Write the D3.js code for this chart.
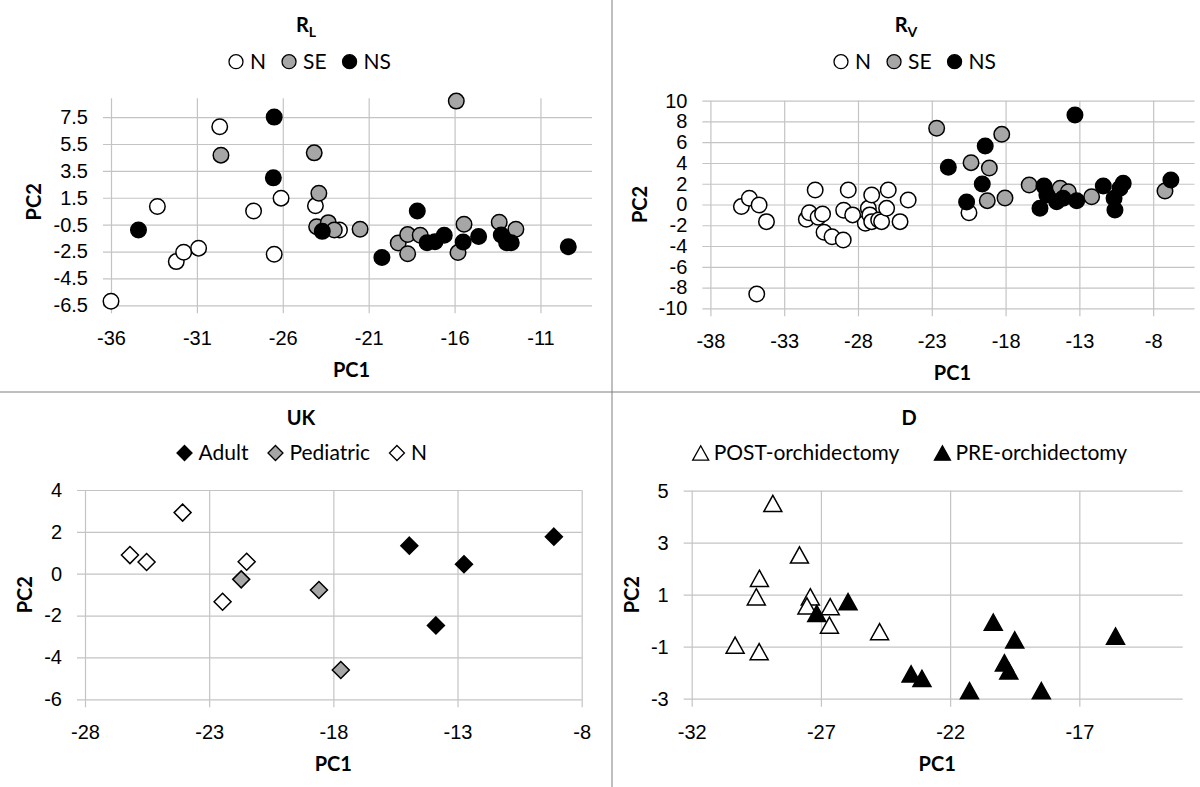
<!DOCTYPE html>
<html>
<head>
<meta charset="utf-8">
<script src="https://cdn.jsdelivr.net/npm/d3@7"></script>
<style>
  body { margin: 0; background: #fff; }
  svg { font-family: Lato, "Open Sans", sans-serif; }
  .grid line { stroke: #c4c4c4; stroke-width: 1.2; }
  .grid path { display: none; }
  .grid text { font-size: 20px; fill: #000; }
</style>
</head>
<body>
<div id="chart"></div>
<script>
// R_L panel
var rlN = [[-36, -6.2], [-33.3, 0.85], [-32.2, -3.25], [-31.77, -2.55], [-30.9, -2.25], [-29.67, 6.78],
  [-27.7, 0.52], [-26.1, 1.47], [-26.5, -2.7], [-24.1, 0.9], [-22.7, -0.9]];
var rlSE = [[-29.6, 4.67], [-24.17, 4.84], [-23.9, 1.84], [-24.03, -0.65], [-23.35, -0.35], [-23.0, -0.9],
  [-21.5, -0.84], [-19.28, -1.86], [-18.73, -2.66], [-18.73, -1.24], [-18.0, -1.29], [-15.9, 8.69],
  [-15.8, -2.58], [-15.45, -0.47], [-13.4, -0.32], [-12.43, -0.84]];
var rlNS = [[-34.4, -0.9], [-26.5, 7.5], [-26.55, 2.98], [-23.7, -1.0], [-20.23, -2.95], [-18.17, 0.52],
  [-17.6, -1.84], [-17.14, -1.77], [-16.6, -1.29], [-15.5, -1.79], [-14.6, -1.39], [-13.28, -1.27],
  [-12.97, -1.84], [-12.7, -1.84], [-9.38, -2.14]];
var rlXTicks = [-36, -31, -26, -21, -16, -11];
var rlYTicks = [-6.5, -4.5, -2.5, -0.5, 1.5, 3.5, 5.5, 7.5];

// R_V panel
var rvN = [[-35.9, -0.2], [-35.36, 0.6], [-34.7, -0.05], [-34.2, -1.65], [-34.86, -8.62], [-31.5, -1.43],
  [-31.3, -0.79], [-30.9, 1.4], [-30.7, -1.23], [-30.4, -0.92], [-30.3, -2.68], [-29.76, -3.1],
  [-29.0, -3.42], [-28.97, -0.56], [-28.66, 1.4], [-28.36, -1.0], [-27.5, -1.8], [-27.3, -0.37],
  [-27.2, -1.0], [-27.07, 0.92], [-27.07, -1.65], [-26.6, -1.5], [-26.4, -1.65], [-26.06, -0.37],
  [-25.95, 1.4], [-25.15, -1.65], [-24.6, 0.43], [-20.48, -0.79]];
var rvSE = [[-22.67, 7.34], [-20.34, 4.03], [-19.1, 3.52], [-19.24, 0.37], [-18.26, 6.76], [-18.04, 0.63],
  [-16.4, 1.88], [-14.3, 1.56], [-13.75, 1.23], [-12.17, 0.75], [-7.2, 1.3]];
var rvNS = [[-21.88, 3.58], [-20.64, 0.24], [-19.38, 5.64], [-19.58, 1.97], [-15.4, 1.78], [-15.67, -0.37],
  [-15.2, 0.92], [-14.54, 0.27], [-14.1, 0.6], [-13.18, 0.37], [-13.3, 8.62], [-11.38, 1.78],
  [-10.03, 2.04], [-10.25, 1.56], [-10.65, 0.6], [-10.59, -0.53], [-6.8, 2.36]];
var rvXTicks = [-38, -33, -28, -23, -18, -13, -8];
var rvYTicks = [-10, -8, -6, -4, -2, 0, 2, 4, 6, 8, 10];

// UK panel
var ukAdult = [[-14.94, 1.34], [-12.74, 0.45], [-13.87, -2.47], [-9.12, 1.77]];
var ukPediatric = [[-21.71, -0.27], [-18.58, -0.78], [-17.7, -4.6]];
var ukN = [[-26.19, 0.89], [-25.52, 0.56], [-24.07, 2.92], [-22.46, -1.34], [-21.49, 0.57]];
var ukXTicks = [-28, -23, -18, -13, -8];
var ukYTicks = [-6, -4, -2, 0, 2, 4];

// D panel
var dPost = [[-28.86, 4.51], [-27.83, 2.53], [-29.38, 1.63], [-29.5, 0.92], [-27.41, 0.92], [-27.54, 0.57],
  [-26.64, 0.54], [-26.67, -0.17], [-30.32, -0.94], [-29.39, -1.19], [-24.73, -0.42]];
var dPre = [[-27.16, 0.28], [-25.95, 0.73], [-23.51, -2.05], [-23.09, -2.22], [-21.25, -2.69], [-20.33, -0.06],
  [-19.5, -0.74], [-19.9, -1.62], [-19.73, -1.93], [-18.47, -2.69], [-15.6, -0.59]];
var dXTicks = [-32, -27, -22, -17];
var dYTicks = [-3, -1, 1, 3, 5];

var width = 1200, height = 787;
var gray = "#a6a6a6";

var svg = d3.select("#chart").append("svg")
  .attr("width", width)
  .attr("height", height);

// marker path, s = full width of the marker
function shapePath(shape, s) {
  if (shape === "circle") return d3.symbol(d3.symbolCircle, Math.PI * s * s / 4)();
  if (shape === "diamond") {
    var a = s / 2;
    return "M0," + (-a) + "L" + a + ",0L0," + a + "L" + (-a) + ",0Z";
  }
  var h = s * 0.9;
  return "M0," + (-h / 2) + "L" + (s / 2) + "," + (h / 2) + "L" + (-s / 2) + "," + (h / 2) + "Z";
}

function drawPanel(p) {
  var g = svg.append("g");
  var x = d3.scaleLinear().domain(p.xDomain).range(p.xRange);
  var y = d3.scaleLinear().domain(p.yDomain).range(p.yRange);
  var left = p.xRange[0], right = p.xRange[1], bottom = p.yRange[0], top = p.yRange[1];

  g.append("g").attr("class", "grid")
    .attr("transform", "translate(0," + (bottom + 8) + ")")
    .call(d3.axisBottom(x).tickValues(p.xTicks).tickFormat(String)
      .tickSize(-(bottom + 8 - top)).tickPadding(18));
  g.append("g").attr("class", "grid")
    .attr("transform", "translate(" + (left - 8) + ",0)")
    .call(d3.axisLeft(y).tickValues(p.yTicks).tickFormat(String)
      .tickSize(-(right - left + 8)).tickPadding(15));

  // axis titles
  g.append("text")
    .attr("x", (left + right) / 2)
    .attr("y", bottom + 65)
    .attr("dy", "0.35em")
    .attr("text-anchor", "middle")
    .style("font-size", "20px").style("font-weight", "bold")
    .text("PC1");
  g.append("text")
    .attr("transform", "translate(" + p.pc2X + "," + ((top + bottom) / 2) + ") rotate(-90)")
    .attr("dy", "0.35em")
    .attr("text-anchor", "middle")
    .style("font-size", "20px").style("font-weight", "bold")
    .text("PC2");

  // title
  var t = g.append("text")
    .attr("x", p.titleX)
    .attr("y", p.titleY)
    .attr("text-anchor", "middle")
    .style("font-size", "20px").style("font-weight", "bold")
    .text(p.title);
  if (p.sub) {
    t.append("tspan").attr("dy", 5).style("font-size", "14px").text(p.sub);
  }

  // points
  p.series.forEach(function(s) {
    g.append("g").selectAll("path")
      .data(s.data)
      .enter()
      .append("path")
      .attr("d", shapePath(s.shape, s.size))
      .attr("transform", function(d) { return "translate(" + x(d[0]) + "," + y(d[1]) + ")"; })
      .style("fill", s.fill)
      .style("stroke", "#000")
      .style("stroke-width", 1.5);
  });

  // legend
  var legend = g.append("g");
  var cx = 0;
  p.series.forEach(function(s, i) {
    var item = legend.append("g");
    item.append("path")
      .attr("d", shapePath(s.shape, s.legendSize))
      .attr("transform", "translate(" + cx + ",0)")
      .style("fill", s.fill)
      .style("stroke", "#000")
      .style("stroke-width", 1.3);
    var txt = item.append("text")
      .attr("x", cx + p.markerGap)
      .attr("dy", "0.35em")
      .style("font-size", "21px")
      .text(s.name);
    cx = cx + p.markerGap + txt.node().getComputedTextLength() + p.itemGap;
  });
  var box = legend.node().getBBox();
  legend.attr("transform", "translate(" + (p.legendX - (box.x + box.width / 2)) + "," + p.legendY + ")");
}

drawPanel({
  title: "R", sub: "L", titleX: 306, titleY: 32,
  xDomain: [-36, -8], xRange: [111, 592],
  yDomain: [-6.5, 8.9], yRange: [305.3, 98.3],
  xTicks: rlXTicks, yTicks: rlYTicks, pc2X: 34,
  legendX: 310, legendY: 61.7, markerGap: 14, itemGap: 23,
  series: [
    { name: "N", data: rlN, shape: "circle", fill: "#fff", size: 15.5, legendSize: 14 },
    { name: "SE", data: rlSE, shape: "circle", fill: gray, size: 15.5, legendSize: 14 },
    { name: "NS", data: rlNS, shape: "circle", fill: "#000", size: 15.5, legendSize: 14 }
  ]
});

drawPanel({
  title: "R", sub: "V", titleX: 906, titleY: 32,
  xDomain: [-38, -5.2], xRange: [710.4, 1194.5],
  yDomain: [-10, 10], yRange: [308.3, 100.7],
  xTicks: rvXTicks, yTicks: rvYTicks, pc2X: 640,
  legendX: 915, legendY: 61.7, markerGap: 14, itemGap: 23,
  series: [
    { name: "N", data: rvN, shape: "circle", fill: "#fff", size: 15.5, legendSize: 14 },
    { name: "SE", data: rvSE, shape: "circle", fill: gray, size: 15.5, legendSize: 14 },
    { name: "NS", data: rvNS, shape: "circle", fill: "#000", size: 15.5, legendSize: 14 }
  ]
});

drawPanel({
  title: "UK", titleX: 301, titleY: 425,
  xDomain: [-28, -8], xRange: [85, 581.7],
  yDomain: [-6, 4], yRange: [699.3, 490],
  xTicks: ukXTicks, yTicks: ukYTicks, pc2X: 25,
  legendX: 302, legendY: 453, markerGap: 14, itemGap: 27,
  series: [
    { name: "Adult", data: ukAdult, shape: "diamond", fill: "#000", size: 17, legendSize: 15 },
    { name: "Pediatric", data: ukPediatric, shape: "diamond", fill: gray, size: 17, legendSize: 15 },
    { name: "N", data: ukN, shape: "diamond", fill: "#fff", size: 17, legendSize: 15 }
  ]
});

drawPanel({
  title: "D", titleX: 909, titleY: 425,
  xDomain: [-32, -13], xRange: [691.7, 1182.7],
  yDomain: [-3, 5], yRange: [698.7, 490.7],
  xTicks: dXTicks, yTicks: dYTicks, pc2X: 632,
  legendX: 910, legendY: 453, markerGap: 13, itemGap: 43,
  series: [
    { name: "POST-orchidectomy", data: dPost, shape: "triangle", fill: "#fff", size: 18, legendSize: 16 },
    { name: "PRE-orchidectomy", data: dPre, shape: "triangle", fill: "#000", size: 18, legendSize: 16 }
  ]
});

// panel dividers
svg.append("line")
  .attr("x1", 612).attr("x2", 612).attr("y1", 0).attr("y2", height)
  .style("stroke", "#7f7f7f").style("stroke-width", 1);
svg.append("line")
  .attr("x1", 0).attr("x2", width).attr("y1", 392).attr("y2", 392)
  .style("stroke", "#7f7f7f").style("stroke-width", 1);
</script>
</body>
</html>
